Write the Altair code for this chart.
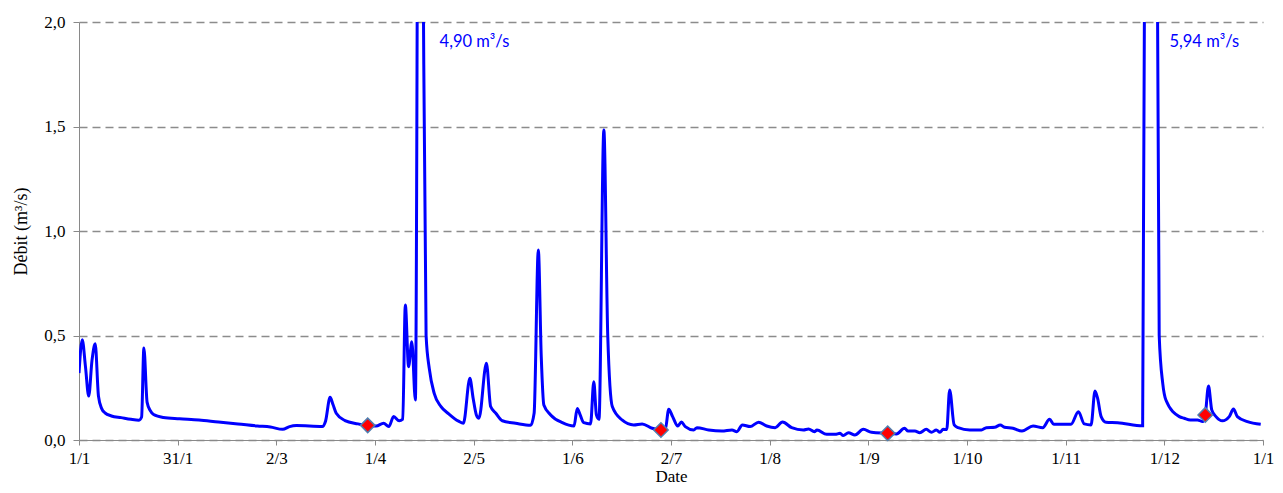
import altair as alt
import pandas as pd

# Daily discharge (day of year, m3/s)
days = [0, 1, 2, 3, 4, 5, 6, 7, 8, 10, 13, 16, 18.5, 19.3, 20, 21, 22, 23, 26, 31,
        37, 43, 49, 55, 59, 62.8, 64.9, 67, 75, 76, 77.4, 78.3, 79.3, 82, 86, 88.8,
        91.6, 93.9, 95.5, 97, 98.7, 99.8, 100.6, 101.6, 102.6, 103.7, 105, 106, 107,
        108, 109.5, 111.6, 114, 117, 118.5, 120.5, 121.5, 122.5, 123.3, 125.6, 126.9,
        128.5, 130.5, 134.6, 139.2, 140.3, 141.6, 142.5, 143.3, 145.4, 149, 152.6,
        153.6, 154.5, 155.6, 157.7, 158.7, 159.5, 160.3, 161.8, 163, 164.4, 167.4,
        171, 173.6, 176.7, 179.4, 180.8, 181.8, 183, 184.6, 185.7, 186.9, 189.5,
        190.5, 194.1, 198.2, 201.3, 202.8, 204.5, 206.9, 209.5, 212, 214.6, 216.9,
        219.7, 223.3, 224.9, 226.7, 227.5, 230.5, 233.1, 234.6, 235.6, 237.2, 239.2,
        241.8, 244.3, 249.3, 252, 254.5, 255.6, 257.7, 259.2, 261.2, 262.8, 264.3,
        265.4, 266.4, 267.5, 268.4, 269.8, 271, 274.6, 278.2, 279.7, 282.3, 284,
        285.3, 287.9, 290.7, 294.1, 297.1, 299.2, 300.5, 305.8, 308.1, 309.9, 312,
        313.2, 314, 315.1, 316.6, 320.2, 327.9, 329, 330, 331, 332, 333, 334.1,
        335.1, 339.2, 340.7, 342.6, 344.8, 346.4, 347.2, 348.2, 349.2, 350.5, 352.5,
        354.6, 355.9, 357.1, 360.2, 364.3]
flow = [0.32, 0.48, 0.35, 0.21, 0.38, 0.46, 0.21, 0.15, 0.13, 0.115, 0.107, 0.099, 0.095, 0.11, 0.44, 0.18, 0.14, 0.122, 0.108, 0.102,
        0.096, 0.086, 0.077, 0.067, 0.062, 0.051, 0.064, 0.069, 0.065, 0.09, 0.204, 0.17, 0.128, 0.093, 0.077, 0.068,
        0.067, 0.080, 0.064, 0.112, 0.092, 0.10, 0.646, 0.351, 0.47, 0.191, 4.90, 2.5, 0.5,
        0.34, 0.223, 0.16, 0.125, 0.09, 0.08, 0.295, 0.2, 0.12, 0.104, 0.367, 0.16,
        0.128, 0.092, 0.08, 0.07, 0.128, 0.909, 0.4, 0.167, 0.12, 0.083, 0.067,
        0.151, 0.12, 0.083, 0.077, 0.279, 0.12, 0.099, 1.483, 0.5, 0.16, 0.096,
        0.072, 0.077, 0.056, 0.048, 0.056, 0.147, 0.112, 0.067, 0.086, 0.064, 0.048,
        0.059, 0.048, 0.043, 0.048, 0.04, 0.072, 0.064, 0.085, 0.067, 0.059, 0.086,
        0.059, 0.048, 0.053, 0.04, 0.048, 0.027, 0.027, 0.032, 0.021, 0.035, 0.024,
        0.051, 0.037, 0.032, 0.029, 0.056, 0.043, 0.043, 0.035, 0.051, 0.037, 0.048,
        0.037, 0.051, 0.05, 0.239, 0.072, 0.059, 0.048, 0.048, 0.059, 0.061, 0.072,
        0.061, 0.056, 0.043, 0.067, 0.059, 0.099, 0.075, 0.075, 0.135, 0.077, 0.072,
        0.234, 0.2, 0.112, 0.085, 0.083, 0.068, 4.5, 5.94, 5.0, 3.8, 0.5, 0.27,
        0.19, 0.112, 0.104, 0.096, 0.096, 0.088, 0.12, 0.258, 0.144, 0.112, 0.092,
        0.112, 0.148, 0.112, 0.088, 0.075]

# Sampling points (red diamonds)
sample_days = [89, 179.4, 249.3, 347.2]
sample_flow = [0.07, 0.048, 0.032, 0.12]

# Peak annotations
peak_days = [105, 330]
peak_text = ["4,90 m³/s", "5,94 m³/s"]

tick_labels = ["1/1", "31/1", "2/3", "1/4", "2/5", "1/6", "2/7", "1/8", "1/9",
               "1/10", "1/11", "1/12", "1/1"]
tick_values = [k * 365 / 12 for k in range(13)]
y_ticks = [0, 0.5, 1.0, 1.5, 2.0]

df = pd.DataFrame({"day": days, "flow": flow})
ds = pd.DataFrame({"day": sample_days, "flow": sample_flow})
da = pd.DataFrame({"day": peak_days, "text": peak_text})

label_arr = "[" + ",".join("'" + t + "'" for t in tick_labels) + "]"

xscale = alt.Scale(domain=[0, 365], nice=False, zero=False)
yscale = alt.Scale(domain=[0, 2], nice=False)

SERIF = "Liberation Serif"

xaxis = alt.Axis(values=tick_values, labelExpr=label_arr + "[round(datum.value*12/365)]",
                 title="Date", grid=False, domainColor="#898989", tickColor="#898989",
                 tickSize=5, labelPadding=5, titlePadding=2, labelFont=SERIF,
                 labelFontSize=17, titleFont=SERIF, titleFontSize=17,
                 titleFontWeight="normal", labelColor="black", titleColor="black",
                 labelFlush=False)
yaxis = alt.Axis(values=y_ticks, labelExpr="replace(format(datum.value, '.1f'), '.', ',')",
                 title="Débit (m³/s)", grid=True, gridColor="#8c8c8c", gridDash=[8, 5],
                 gridWidth=1.3, domainColor="#898989", tickColor="#898989", tickSize=6,
                 labelPadding=8, titlePadding=13, labelFont=SERIF,
                 labelFontSize=17, titleFont=SERIF, titleFontSize=18,
                 titleFontWeight="normal", labelColor="black", titleColor="black")

line = alt.Chart(df).mark_line(color="#0000ff", strokeWidth=3, clip=True,
                               interpolate="monotone").encode(
    x=alt.X("day:Q", scale=xscale, axis=xaxis),
    y=alt.Y("flow:Q", scale=yscale, axis=yaxis),
)

pts = alt.Chart(ds).mark_point(shape="diamond", filled=True, fill="#ff0000",
                               stroke="#4f7fb0", strokeWidth=1.5, size=210, opacity=1).encode(
    x=alt.X("day:Q", scale=xscale),
    y=alt.Y("flow:Q", scale=yscale),
)

ann = alt.Chart(da).mark_text(align="left", baseline="middle", dx=20, color="#0000ff",
                              font="Lato", fontSize=16.5).encode(
    x=alt.X("day:Q", scale=xscale),
    y=alt.value(20),
    text="text:N",
)

chart = (line + pts + ann).properties(
    width=1184, height=418,
    autosize=alt.AutoSizeParams(type="none"),
    padding={"left": 71, "top": 14, "right": 12, "bottom": 45},
).configure_view(stroke=None)

chart.save("out.html", embed_options={"renderer": "svg", "actions": False})
